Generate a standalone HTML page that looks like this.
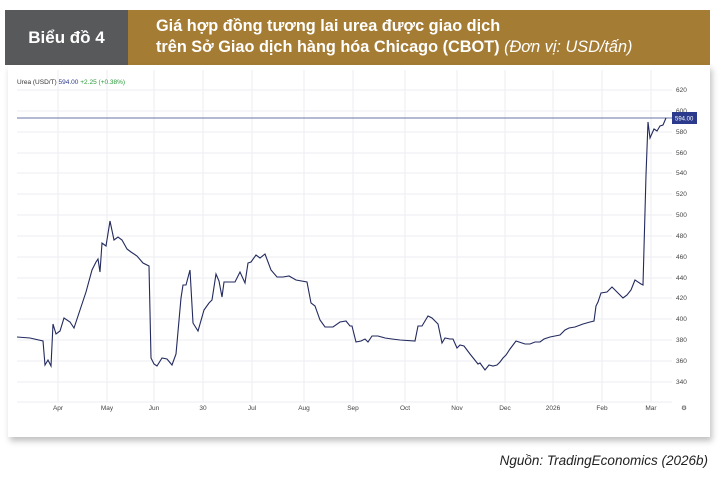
<!DOCTYPE html>
<html><head><meta charset="utf-8"><style>
body{margin:0;width:720px;height:488px;background:#fff;position:relative;overflow:hidden;font-family:"Liberation Sans",sans-serif}
.g{position:absolute;left:5px;top:10px;width:123px;height:55px;background:#58595b;color:#fff;font:bold 17px "Liberation Sans",sans-serif;display:flex;align-items:center;justify-content:center}
.o{position:absolute;left:128px;top:10px;width:582px;height:55px;background:#a57c34;color:#fff;font:bold 16.3px "Liberation Sans",sans-serif;line-height:21px;padding:6px 0 0 28px;box-sizing:border-box;white-space:nowrap}
.o i{font-weight:normal}
.card{position:absolute;left:8px;top:65px;width:702px;height:372px;background:#fff;box-shadow:2px 4px 6px rgba(0,0,0,.25)}
.src{position:absolute;right:12px;top:453px;font:italic 13.5px "Liberation Sans",sans-serif;color:#222}
</style></head><body>
<div class="g">Biểu đồ 4</div>
<div class="o">Giá hợp đồng tương lai urea được giao dịch<br>trên Sở Giao dịch hàng hóa Chicago (CBOT) <i>(Đơn vị: USD/tấn)</i></div>
<div class="card"></div>
<svg style="position:absolute;left:0;top:0" width="720" height="488" font-family="Liberation Sans" font-size="6.5">
<g stroke="#eceef2" stroke-width="1">
<line x1="58" y1="70" x2="58" y2="402"/><line x1="107" y1="70" x2="107" y2="402"/><line x1="154" y1="70" x2="154" y2="402"/><line x1="203" y1="70" x2="203" y2="402"/><line x1="252" y1="70" x2="252" y2="402"/><line x1="304" y1="70" x2="304" y2="402"/><line x1="353" y1="70" x2="353" y2="402"/><line x1="405" y1="70" x2="405" y2="402"/><line x1="457" y1="70" x2="457" y2="402"/><line x1="505" y1="70" x2="505" y2="402"/><line x1="553" y1="70" x2="553" y2="402"/><line x1="602" y1="70" x2="602" y2="402"/><line x1="651" y1="70" x2="651" y2="402"/>
<line x1="17" y1="90" x2="672" y2="90"/><line x1="17" y1="111" x2="672" y2="111"/><line x1="17" y1="132" x2="672" y2="132"/><line x1="17" y1="153" x2="672" y2="153"/><line x1="17" y1="173" x2="672" y2="173"/><line x1="17" y1="194" x2="672" y2="194"/><line x1="17" y1="215" x2="672" y2="215"/><line x1="17" y1="236" x2="672" y2="236"/><line x1="17" y1="257" x2="672" y2="257"/><line x1="17" y1="278" x2="672" y2="278"/><line x1="17" y1="298" x2="672" y2="298"/><line x1="17" y1="319" x2="672" y2="319"/><line x1="17" y1="340" x2="672" y2="340"/><line x1="17" y1="361" x2="672" y2="361"/><line x1="17" y1="382" x2="672" y2="382"/><line x1="17" y1="402" x2="672" y2="402"/>
</g>
<text x="17" y="84" fill="#333">Urea (USD/T) <tspan fill="#2b3a8c">594.00</tspan> <tspan fill="#2a9a3a">+2.25 (+0.38%)</tspan></text>
<g fill="#444"><text x="676" y="92">620</text><text x="676" y="113">600</text><text x="676" y="155">560</text><text x="676" y="175">540</text><text x="676" y="196">520</text><text x="676" y="217">500</text><text x="676" y="238">480</text><text x="676" y="259">460</text><text x="676" y="280">440</text><text x="676" y="300">420</text><text x="676" y="321">400</text><text x="676" y="342">380</text><text x="676" y="363">360</text><text x="676" y="384">340</text><text x="676" y="134">580</text></g>
<g fill="#444" text-anchor="middle"><text x="58" y="410">Apr</text><text x="107" y="410">May</text><text x="154" y="410">Jun</text><text x="203" y="410">30</text><text x="252" y="410">Jul</text><text x="304" y="410">Aug</text><text x="353" y="410">Sep</text><text x="405" y="410">Oct</text><text x="457" y="410">Nov</text><text x="505" y="410">Dec</text><text x="553" y="410">2026</text><text x="602" y="410">Feb</text><text x="651" y="410">Mar</text><text x="684" y="410">⚙</text></g>
<line x1="17" y1="118" x2="672" y2="118" stroke="#6a74a8" stroke-width="1"/>
<rect x="672" y="112" width="25" height="12" fill="#2b3a8c"/><text x="675" y="120.5" fill="#fff" font-size="6">594.00</text>
<polyline fill="none" stroke="#232a5e" stroke-width="1.1" points="17,337 30,338 43,341 45,365 48,360 51,366 53,324 56,334 60,331 64,318 70,322 74,328 80,310 86,292 92,270 96,262 98,259 100,272 102,243 106,246 110,221 114,240 118,237 122,240 127,249 131,252 137,256 143,263 149,266 151,358 154,364 157,366 162,358 167,359 172,365 176,354 181,298 183,285 186,285 190,270 193,323 198,331 204,310 209,303 212,300 216,274 219,281 222,297 224,282 235,282 240,272 245,283 248,263 251,262 256,255 260,258 265,254 271,270 277,277 283,277 289,276 296,280 307,282 311,303 315,306 320,320 325,327 333,327 340,322 346,321 350,326 352,326 356,342 361,341 365,339 368,342 372,336 378,336 385,338 392,339 400,340 415,341 418,326 422,326 428,316 432,318 438,324 442,343 445,338 450,339 453,339 457,348 460,345 464,346 470,354 478,364 480,363 485,370 489,365 493,366 497,365 500,362 503,358 506,355 510,349 516,341 519,342 522,343 525,344 530,344 535,342 540,342 544,339 550,337 555,336 560,335 565,330 569,328 575,327 583,324 590,322 594,321 596,306 598,302 601,293 607,292 612,287 615,290 618,293 623,298 627,295 631,290 635,280 641,284 643,285 646,175 648,122 650,138 654,129 657,131 660,126 663,125 666,118"/>
</svg>
<div class="src">Nguồn: TradingEconomics (2026b)</div>
</body></html>
